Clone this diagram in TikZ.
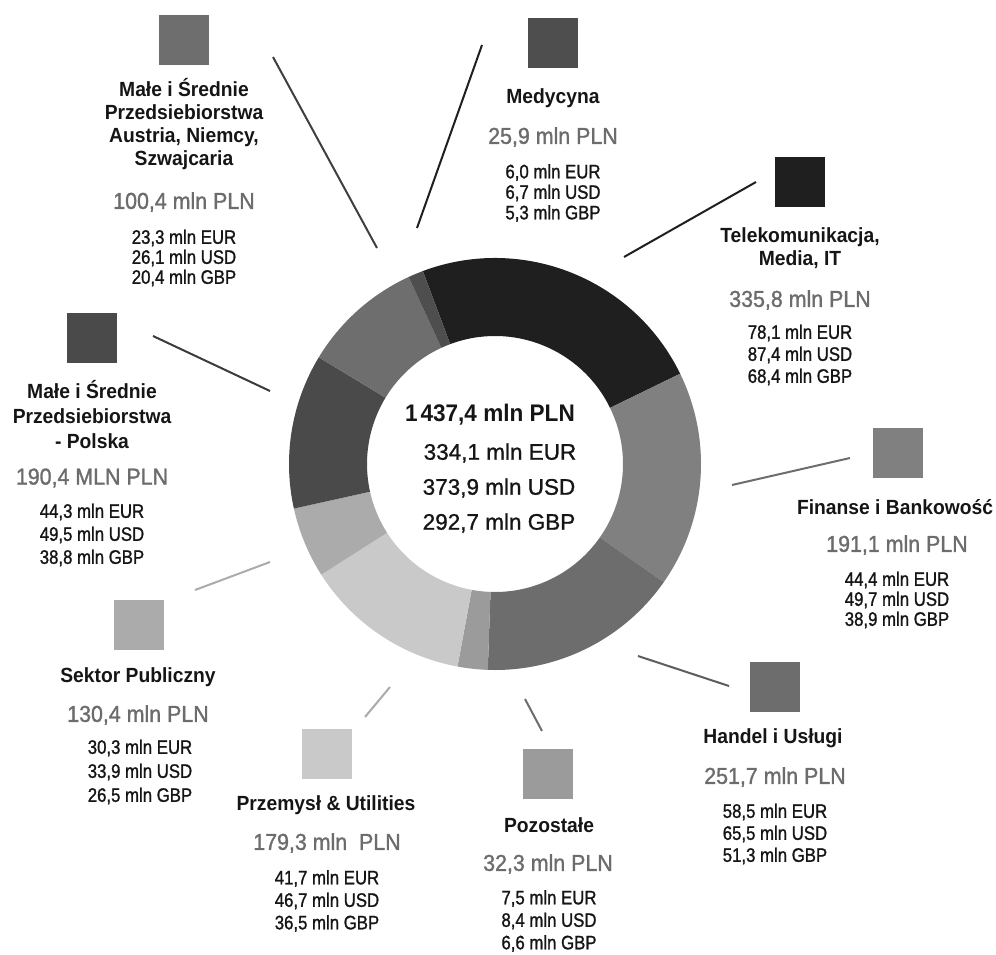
\documentclass[tikz,border=0pt]{standalone}
\usepackage{fontspec}
\setmainfont{Liberation Sans}
\newfontfamily\ttlfont{Liberation Sans}[FakeStretch=0.94]
\newfontfamily\plnfont{Liberation Sans}[FakeStretch=0.93, FakeBold=1.3]
\newfontfamily\detfont{Liberation Sans}[FakeStretch=0.86, FakeBold=1.2]
\newfontfamily\ctrfont{Liberation Sans}[FakeBold=1.0]
\definecolor{cTel}{HTML}{1F1F1F}
\definecolor{cFin}{HTML}{808080}
\definecolor{cHan}{HTML}{6D6D6D}
\definecolor{cPoz}{HTML}{9B9B9B}
\definecolor{cPrz}{HTML}{C9C9C9}
\definecolor{cSek}{HTML}{ABABAB}
\definecolor{cPL}{HTML}{4A4A4A}
\definecolor{cDACH}{HTML}{6E6E6E}
\definecolor{cMed}{HTML}{4E4E4E}
\definecolor{plngray}{HTML}{6C6C6C}
\definecolor{txt}{HTML}{151515}
\newcommand\donutseg[3]{\fill[#3] (#1:206) arc[start angle=#1, end angle=#2, radius=206] -- (#2:128) arc[start angle=#2, end angle=#1, radius=128] -- cycle;}
\begin{document}
\begin{tikzpicture}[x=1pt,y=-1pt,
  sq/.style={minimum size=50pt, inner sep=0pt, fill=#1},
  ttl/.style={font=\ttlfont\bfseries\fontsize{20.5}{#1}\selectfont, align=center, inner sep=0pt, text=txt},
  ttl/.default=23,
  pln/.style={font=\plnfont\fontsize{23}{26}\selectfont, text=plngray, inner sep=0pt},
  det/.style={font=\detfont\fontsize{19.5}{#1}\selectfont, align=center, inner sep=0pt, text=txt},
  det/.default=21,
  conn/.style={draw=#1, line width=2pt},
  ctr/.style={font=\ctrfont\fontsize{22.5}{26}\selectfont, inner sep=0pt, text=txt}
]
\useasboundingbox (0,0) rectangle (996,955);
% donut
\begin{scope}[shift={(495,464)}, y=1pt]
\donutseg{110.5}{26}{cTel}
\donutseg{26}{-35}{cFin}
\donutseg{-35}{-92}{cHan}
\donutseg{-92}{-100.5}{cPoz}
\donutseg{-100.5}{-147.5}{cPrz}
\donutseg{-147.5}{-167.5}{cSek}
\donutseg{-167.5}{-211.2}{cPL}
\donutseg{-211.2}{-245.2}{cDACH}
\donutseg{-245.2}{-249.5}{cMed}
\end{scope}
% centre text
\node[ctr, font=\ttlfont\bfseries\fontsize{24}{26}\selectfont] (tot) at (490,415) {1\hspace{0.12em}437,4 mln PLN};
\node[ctr] (teur) at (500,453) {334,1 mln EUR};
\node[ctr] (tusd) at (499,488) {373,9 mln USD};
\node[ctr] (tgbp) at (499,523) {292,7 mln GBP};

% DACH
\node[sq=cDACH] (dachsq) at (184,40) {};
\node[ttl=22.7] (dachttl) at (184,124) {Małe i Średnie\\Przedsiebiorstwa\\Austria, Niemcy,\\Szwajcaria};
\node[pln] (dachpln) at (184,202) {100,4 mln PLN};
\node[det=20] (dachdet) at (184,258) {23,3 mln EUR\\26,1 mln USD\\20,4 mln GBP};
\coordinate (dachA) at (273,57);
\coordinate (dachB) at (377,248);
\draw[conn=cPL!85!black] (dachA) -- (dachB);

% Medycyna
\node[sq=cMed] (medsq) at (553,43) {};
\node[ttl] (medttl) at (553,98) {Medycyna};
\node[pln] (medpln) at (553,137) {25,9 mln PLN};
\node[det=20.5] (meddet) at (553,193) {6,0 mln EUR\\6,7 mln USD\\5,3 mln GBP};
\coordinate (medA) at (482,45);
\coordinate (medB) at (417,228);
\draw[conn=cTel] (medA) -- (medB);

% Telekomunikacja
\node[sq=cTel] (telsq) at (800,182) {};
\node[ttl=23] (telttl) at (800,248.5) {Telekomunikacja,\\Media, IT};
\node[pln] (telpln) at (800,300) {335,8 mln PLN};
\node[det=22] (teldet) at (800,355) {78,1 mln EUR\\87,4 mln USD\\68,4 mln GBP};
\coordinate (telA) at (756,182);
\coordinate (telB) at (624,257);
\draw[conn=cTel] (telA) -- (telB);

% Finanse
\node[sq=cFin] (finsq) at (898,453) {};
\node[ttl] (finttl) at (895,507) {Finanse i Bankowość};
\node[pln] (finpln) at (897,545) {191,1 mln PLN};
\node[det=20] (findet) at (897,600) {44,4 mln EUR\\49,7 mln USD\\38,9 mln GBP};
\coordinate (finA) at (850,458);
\coordinate (finB) at (732,485);
\draw[conn=cHan] (finA) -- (finB);

% Handel
\node[sq=cHan] (hansq) at (775,687) {};
\node[ttl] (hanttl) at (773,738) {Handel i Usługi};
\node[pln] (hanpln) at (775,777) {251,7 mln PLN};
\node[det=22] (handet) at (775,834) {58,5 mln EUR\\65,5 mln USD\\51,3 mln GBP};
\coordinate (hanA) at (729,686);
\coordinate (hanB) at (638,656);
\draw[conn=cHan!85!black] (hanA) -- (hanB);

% Pozostale
\node[sq=cPoz] (pozsq) at (548,774) {};
\node[ttl] (pozttl) at (549,825) {Pozostałe};
\node[pln] (pozpln) at (548,864) {32,3 mln PLN};
\node[det=22.5] (pozdet) at (549,921) {7,5 mln EUR\\8,4 mln USD\\6,6 mln GBP};
\coordinate (pozA) at (542,731);
\coordinate (pozB) at (525,699);
\draw[conn=cHan] (pozA) -- (pozB);

% Przemysl
\node[sq=cPrz] (przsq) at (327,754) {};
\node[ttl] (przttl) at (326,805) {Przemysł \& Utilities};
\node[pln] (przpln) at (327,843) {179,3 mln\ \ PLN};
\node[det=22.5] (przdet) at (327,901) {41,7 mln EUR\\46,7 mln USD\\36,5 mln GBP};
\coordinate (przA) at (365,717);
\coordinate (przB) at (390,687);
\draw[conn=cSek] (przA) -- (przB);

% Sektor Publiczny
\node[sq=cSek] (seksq) at (139,625) {};
\node[ttl] (sekttl) at (138,677) {Sektor Publiczny};
\node[pln] (sekpln) at (138,715) {130,4 mln PLN};
\node[det=24] (sekdet) at (140,772) {30,3 mln EUR\\33,9 mln USD\\26,5 mln GBP};
\coordinate (sekA) at (195,590);
\coordinate (sekB) at (270,562);
\draw[conn=cSek] (sekA) -- (sekB);

% MSP Polska
\node[sq=cPL] (plsq) at (92,338) {};
\node[ttl=25] (plttl) at (92,415) {Małe i Średnie\\Przedsiebiorstwa\\- Polska};
\node[pln] (plpln) at (92,478) {190,4 MLN PLN};
\node[det=23] (pldet) at (92,535) {44,3 mln EUR\\49,5 mln USD\\38,8 mln GBP};
\coordinate (plA) at (153,336);
\coordinate (plB) at (270,391);
\draw[conn=cPL!80!black] (plA) -- (plB);
\end{tikzpicture}
\end{document}
